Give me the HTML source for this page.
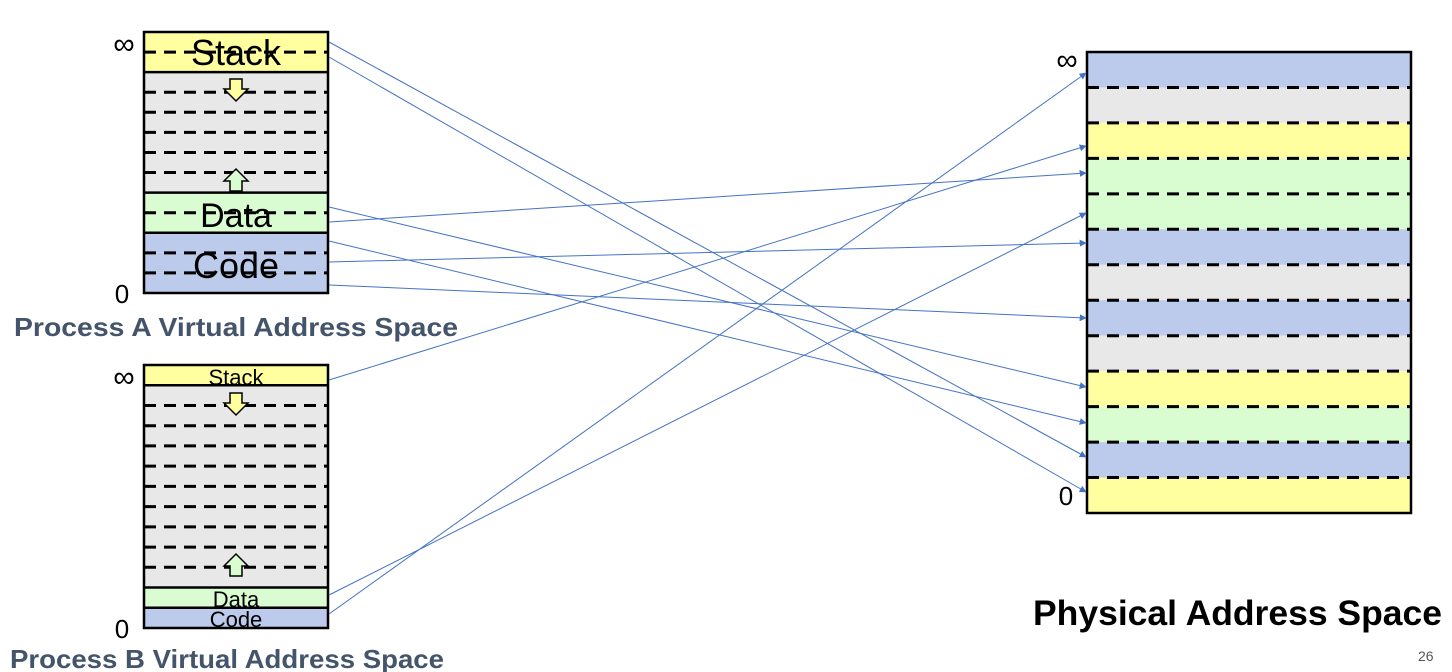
<!DOCTYPE html>
<html><head><meta charset="utf-8"><style>
html,body{margin:0;padding:0;background:#fff;}
svg{display:block;font-family:"Liberation Sans",sans-serif;}
</style></head><body>
<svg id="s" width="1452" height="672" viewBox="0 0 1452 672" xmlns="http://www.w3.org/2000/svg">
<defs><marker id="ah" viewBox="0 0 10 10" refX="9" refY="5" markerWidth="7" markerHeight="7" orient="auto"><path d="M0,0L10,5L0,10z" fill="#4472c4"/></marker></defs>
<g id="boxes"></g>
<g id="arrows"></g>
<text x="14" y="336" font-size="26" font-weight="bold" fill="#44546a" textLength="444" lengthAdjust="spacingAndGlyphs">Process A Virtual Address Space</text>
<text x="10" y="668" font-size="26" font-weight="bold" fill="#44546a" textLength="434" lengthAdjust="spacingAndGlyphs">Process B Virtual Address Space</text>
<text x="1033" y="625" font-size="35" font-weight="bold" fill="#000" textLength="409" lengthAdjust="spacingAndGlyphs">Physical Address Space</text>
<text x="1418" y="661" font-size="14" fill="#555">26</text>
</svg>
<script>
const COL={S:'#ffff9f',G:'#e8e8e8',D:'#d9fdd0',C:'#bccbeb'};
const aPages=['S','S','G','G','G','G','G','G','D','D','C','C','C'];
const bPages=['S','G','G','G','G','G','G','G','G','G','G','D','C'];
const pPages=['C','G','S','D','D','C','G','C','G','S','D','C','S'];
// mappings: [source box, source y, target physical y]
const links=[['A',42,457],['A',57,492],['A',207,387],['A',222,173],['A',241,423],['A',262,243],['A',285,318],['B',380,146],['B',595,213],['B',614,73]];
const NS='http://www.w3.org/2000/svg';
const g=document.getElementById('boxes'),ga=document.getElementById('arrows');
function el(t,a,p){const e=document.createElementNS(NS,t);for(const k in a)e.setAttribute(k,a[k]);(p||g).appendChild(e);return e;}
function box(name,pages,x,y,w,h,solid){
  const ph=h/pages.length;
  pages.forEach((c,i)=>{const r=el('rect',{x:x,y:y+i*ph,width:w,height:ph,fill:COL[c]});
    
    });
  for(let i=1;i<pages.length;i++){
    const yy=y+i*ph;
    const sol=solid&&pages[i]!==pages[i-1];
    el('line',{x1:x,x2:x+w,y1:yy,y2:yy,stroke:'#000','stroke-width':sol?2.5:3,'stroke-dasharray':sol?'':'12 8'});
  }
  const r=el('rect',{x:x,y:y,width:w,height:h,fill:'none',stroke:'#000','stroke-width':2.5});
  
  
}
function txt(s,x,y,fs,name,anchor){const t=el('text',{x:x,y:y,'font-size':fs,'text-anchor':anchor||'middle',fill:'#000'});t.textContent=s;
  
  return t;}
function arrowDown(cx,cy,fill){el('polygon',{points:`${cx-6},${cy-11} ${cx+6},${cy-11} ${cx+6},${cy-1} ${cx+12},${cy-1} ${cx},${cy+11} ${cx-12},${cy-1} ${cx-6},${cy-1}`,fill:fill,stroke:'#000','stroke-width':1.5});}
function arrowUp(cx,cy,fill){el('polygon',{points:`${cx-6},${cy+11} ${cx+6},${cy+11} ${cx+6},${cy+1} ${cx+12},${cy+1} ${cx},${cy-11} ${cx-12},${cy+1} ${cx-6},${cy+1}`,fill:fill,stroke:'#000','stroke-width':1.5});}
// Process A
box('process-a',aPages,144,32,184,261,true);
txt('Stack',236,65,36,'a-stack-label');txt('Data',236,227,34,'a-data-label');txt('Code',236,278,36,'a-code-label');
arrowDown(236,90,'#ffff9f');arrowUp(236,180,'#d9fdd0');
txt('∞',124,54,30,'a-inf-label');txt('0',122,303,26,'a-zero-label');
// Process B
box('process-b',bPages,144,365,184,263,true);
txt('Stack',236,385,22,'b-stack-label');txt('Data',236,607,22,'b-data-label');txt('Code',236,627,22,'b-code-label');
arrowDown(236,404,'#ffff9f');arrowUp(236,565,'#d9fdd0');
txt('∞',124,387,30,'b-inf-label');txt('0',122,638,26,'b-zero-label');
// Physical
box('physical',pPages,1087,52,324,461,false);
txt('∞',1067,70,30,'phys-inf-label');txt('0',1066,505,26,'phys-zero-label');
// arrows
links.forEach((l,i)=>{const sy=l[1];
  const ln=el('line',{x1:329,y1:sy,x2:1086,y2:l[2],stroke:'#4472c4','stroke-width':1,'marker-end':'url(#ah)'},ga);
  
  });
</script>
</body></html>
